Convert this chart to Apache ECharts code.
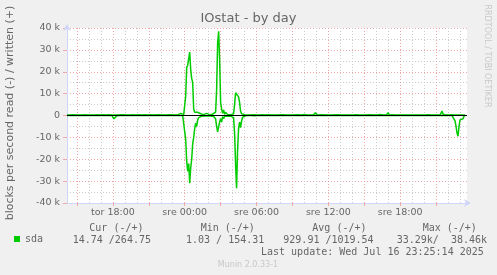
<!DOCTYPE html>
<html><head><meta charset="utf-8">
<script src="https://cdn.jsdelivr.net/npm/echarts@6/dist/echarts.min.js"></script>
<style>html,body{margin:0;padding:0;background:#f0f0f0}#c{width:497px;height:275px}</style>
</head><body><div id="c"></div><script>
// time in minutes from tor (Tue 15 Jul 2025) 00:00
const startMinute = 850;   // tor 14:10
const stepMinutes = 5;
const endMinute = 2855;    // sre 23:35

// blocks per second written (+)
const writtenBps = [
280,260,300,270,250,290,310,260,240,280,300,270,260,250,290,280,260,270,300,280,
260,250,280,300,270,260,290,280,250,260,300,280,270,260,250,290,300,270,260,280,
270,260,300,280,250,260,290,270,280,260,300,270,250,280,290,260,270,300,280,260,
250,280,300,270,260,290,350,700,300,270,260,280,300,270,260,250,280,300,400,700,
300,270,260,280,300,290,260,270,250,280,300,270,260,290,280,260,270,300,280,260,
280,260,300,270,250,290,280,260,270,300,280,260,290,700,1000,1200,800,400,500,9000,
22000,23000,22500,29000,21000,17000,15000,3000,1500,2000,1000,1500,600,800,800,1200,600,400,300,500,
1000,400,300,300,400,800,600,1200,800,1500,12000,33000,38460,26000,6000,3000,1000,2500,500,1500,
600,400,800,500,300,400,500,800,5000,10400,10000,9500,8500,6000,2000,800,500,300,400,300,
300,280,350,300,270,260,290,300,280,260,270,300,280,250,260,290,300,270,260,280,
270,260,300,280,250,260,290,270,280,260,300,270,250,280,290,260,270,300,280,260,
250,280,300,270,260,290,280,260,270,300,280,260,290,280,250,260,270,280,500,300,
270,260,300,280,250,260,290,270,300,1200,300,270,250,280,290,260,500,300,280,260,
250,280,300,270,260,290,280,260,270,300,280,260,290,280,250,260,500,280,270,260,
270,260,400,280,250,260,290,270,280,260,300,270,250,280,290,260,270,300,280,260,
700,280,300,270,260,290,280,260,270,500,280,260,290,280,500,260,270,280,300,270,
260,800,1300,280,250,260,290,270,280,260,300,270,250,280,290,260,270,300,280,260,
250,280,300,270,260,290,280,260,270,300,280,260,290,280,250,260,270,280,300,270,
260,270,300,280,250,260,290,270,280,260,300,270,250,280,290,800,2000,600,280,260,
270,260,300,280,250,260,290,270,280,260,300,270,250,280,290,260,270,300,280,264.75
];

// blocks per second read (-)
const readBps = [
-20,-15,-30,-25,-18,-22,-40,-20,-15,-25,-30,-20,-18,-22,-15,-25,-20,-30,-18,-20,
-25,-20,-15,-30,-22,-18,-20,-25,-30,-15,-20,-22,-18,-25,-20,-15,-30,-20,-22,-18,
-20,-25,-18,-30,-15,-22,-100,-1500,-2300,-800,-60,-20,-25,-18,-30,-15,-22,-20,-25,-18,
-20,-15,-30,-25,-18,-22,-40,-20,-15,-25,-30,-20,-18,-22,-15,-25,-20,-30,-18,-20,
-25,-20,-15,-30,-22,-18,-20,-25,-30,-15,-20,-22,-18,-25,-20,-15,-30,-20,-22,-18,
-20,-25,-18,-30,-15,-22,-20,-25,-18,-20,-15,-30,-25,-18,-40,-60,-30,-100,-500,-11000,
-21000,-25500,-22000,-31000,-24000,-20000,-13000,-10000,-6000,-3500,-5000,-2000,-1000,-500,-200,-300,-150,-100,-200,-80,
-100,-60,-80,-150,-200,-100,-300,-500,-300,-1500,-5000,-7500,-8000,-3000,-1500,-3000,-500,-1500,-300,-200,
-500,-300,-200,-600,-300,-200,-400,-1000,-8000,-22000,-33290,-16000,-6000,-3000,-5500,-2500,-800,-300,-150,-100,
-60,-40,-30,-25,-20,-30,-100,-800,-100,-30,-20,-25,-18,-30,-15,-22,-20,-25,-18,-20,
-25,-20,-15,-30,-22,-18,-20,-25,-30,-15,-20,-22,-18,-25,-20,-15,-30,-20,-22,-18,
-20,-25,-18,-30,-15,-22,-20,-25,-18,-20,-15,-30,-25,-18,-22,-20,-25,-18,-30,-15,
-20,-15,-30,-25,-18,-22,-40,-20,-15,-25,-30,-20,-18,-22,-15,-25,-20,-30,-18,-20,
-25,-20,-15,-30,-22,-18,-20,-25,-30,-15,-20,-22,-18,-25,-20,-15,-30,-20,-22,-18,
-20,-25,-18,-30,-15,-22,-20,-25,-18,-20,-15,-30,-25,-18,-22,-20,-25,-18,-30,-15,
-20,-15,-30,-25,-18,-22,-40,-20,-15,-25,-30,-20,-18,-22,-15,-25,-20,-30,-18,-20,
-25,-20,-15,-30,-22,-18,-20,-25,-30,-15,-20,-22,-18,-25,-20,-15,-30,-20,-22,-18,
-20,-25,-18,-30,-15,-22,-20,-25,-18,-20,-15,-30,-25,-18,-22,-20,-25,-18,-30,-15,
-20,-15,-30,-25,-18,-22,-40,-20,-15,-25,-30,-20,-18,-22,-15,-25,-20,-30,-18,-20,
-25,-20,-15,-30,-22,-18,-20,-60,-500,-2500,-5000,-8000,-9500,-5000,-2000,-1200,-2500,-1500,-300,-14.74
];

const xTickMinutes = [1080, 1440, 1800, 2160, 2520];
const xTickLabels = ['tor 18:00', 'sre 00:00', 'sre 06:00', 'sre 12:00', 'sre 18:00'];
const yMin = -40000, yMax = 40000, yStep = 10000;

const seriesName = 'sda';
const legendHeaders = ['Cur (-/+)', 'Min (-/+)', 'Avg (-/+)', 'Max (-/+)'];
const legendValues = ['14.74 /264.75', '1.03 / 154.31', '929.91 /1019.54', '33.29k/  38.46k'];
const lastUpdate = 'Last update: Wed Jul 16 23:25:14 2025';

// ---- styling ----
const GREEN = '#00cc00', FONT = '#666666', AXIS = '#cfd6f8';
const MAJOR = '#f0a8a8', MINOR = '#cccccc';
const SANS = 'DejaVu Sans', MONO = 'DejaVu Sans Mono';

const majorX = [], minorX = [];
for (let m = Math.ceil(startMinute / 60) * 60; m < endMinute; m += 60) {
  (m % 180 === 0 ? majorX : minorX).push(m);
}
const toPairs = arr => arr.map((v, i) => [startMinute + i * stepMinutes, v]);

const headerX = [89.3, 200.7, 312.3, 422.7];
const valueX = [72.7, 186, 283.3, 396.7];
const graphic = [];
legendHeaders.forEach((t, i) => graphic.push({type:'text', x: headerX[i], y: 228,
  style:{text:t, fill:FONT, fontFamily:MONO, fontSize:10, align:'left', verticalAlign:'middle'}}));
legendValues.forEach((t, i) => graphic.push({type:'text', x: valueX[i], y: 240,
  style:{text:t, fill:FONT, fontFamily:MONO, fontSize:10, align:'left', verticalAlign:'middle'}}));
graphic.push({type:'text', x:261, y:252, style:{text:lastUpdate, fill:FONT, fontFamily:MONO, fontSize:10, align:'left', verticalAlign:'middle'}});
graphic.push({type:'text', x:248, y:264.5, style:{text:'Munin 2.0.33-1', fill:'#c8c8c8', fontFamily:SANS, fontSize:8, align:'center', verticalAlign:'middle'}});
graphic.push({type:'text', x:487.5, y:56, rotation:-Math.PI/2, style:{text:'RRDTOOL / TOBI OETIKER', fill:'#c8c8c8', fontFamily:SANS, fontSize:8, align:'center', verticalAlign:'middle'}});
graphic.push({type:'text', x:10.5, y:113, rotation:Math.PI/2, style:{text:'blocks per second read (-) / written (+)', fill:FONT, fontFamily:SANS, fontSize:11, align:'center', verticalAlign:'middle'}});

const gridMark = (vals, color) => ({
  type:'line', name:'_grid', data:[], silent:true, z:1,
  markLine:{silent:true, symbol:'none', z:1, animation:false, label:{show:false},
    emphasis:{disabled:true}, lineStyle:{color:color, type:[1,2], width:1},
    data: vals.map(m => ({xAxis:m}))}
});

const chart = echarts.init(document.getElementById('c'), null, {renderer:'canvas'});
chart.setOption({
  animation:false,
  backgroundColor:'#f0f0f0',
  title:{text:'IOstat - by day', left:'center', top:12, padding:0,
    textStyle:{fontFamily:SANS, fontSize:13, fontWeight:'normal', color:FONT}},
  legend:{data:[seriesName], left:14, top:234, padding:0, icon:'rect', itemWidth:6, itemHeight:6,
    selectedMode:false, textStyle:{fontFamily:MONO, fontSize:10, color:FONT}},
  grid:{left:67, right:30, top:28, bottom:72, show:true, backgroundColor:'#ffffff', borderWidth:0,
    containLabel:false, outerBoundsMode:'none'},
  xAxis:{type:'value', min:startMinute, max:endMinute,
    axisLine:{onZero:false, lineStyle:{color:AXIS, width:1}, symbol:['none','arrow'], symbolSize:[6,7], symbolOffset:[0,4]},
    axisTick:{show:true, customValues:majorX, length:3, lineStyle:{color:MAJOR}},
    splitLine:{show:false},
    axisLabel:{customValues:xTickMinutes, margin:5, color:FONT, fontFamily:SANS, fontSize:9.5,
      formatter: v => { const k = xTickMinutes.findIndex(m => Math.abs(m - v) < 1e-6); return k >= 0 ? xTickLabels[k] : ''; }}
  },
  yAxis:{type:'value', min:yMin, max:yMax, interval:yStep,
    axisLine:{show:true, lineStyle:{color:AXIS, width:1}, symbol:['none','arrow'], symbolSize:[6,7], symbolOffset:[0,4]},
    axisTick:{show:true, length:4, lineStyle:{color:MAJOR}},
    splitLine:{show:true, lineStyle:{color:MAJOR, type:[1,2], width:1}},
    minorTick:{show:false, splitNumber:2},
    minorSplitLine:{show:true, lineStyle:{color:MINOR, type:[1,2], width:1}},
    axisLabel:{margin:7, color:FONT, fontFamily:SANS, fontSize:9.5,
      formatter: v => v === 0 ? '0' : (v / 1000) + ' k'}
  },
  graphic: graphic,
  series:[
    gridMark(minorX, MINOR),
    gridMark(majorX, MAJOR),
    {name:seriesName, type:'line', data:toPairs(readBps), showSymbol:false, symbol:'none', z:3,
      lineStyle:{color:GREEN, width:1.5}, itemStyle:{color:GREEN}, emphasis:{disabled:true}},
    {name:seriesName, type:'line', data:toPairs(writtenBps), showSymbol:false, symbol:'none', z:3,
      lineStyle:{color:GREEN, width:1.5}, itemStyle:{color:GREEN}, emphasis:{disabled:true},
      markLine:{silent:true, symbol:'none', z:5, animation:false, label:{show:false}, emphasis:{disabled:true},
        lineStyle:{color:'#000000', type:'solid', width:1}, data:[{yAxis:0}]}}
  ]
});
</script></body></html>
